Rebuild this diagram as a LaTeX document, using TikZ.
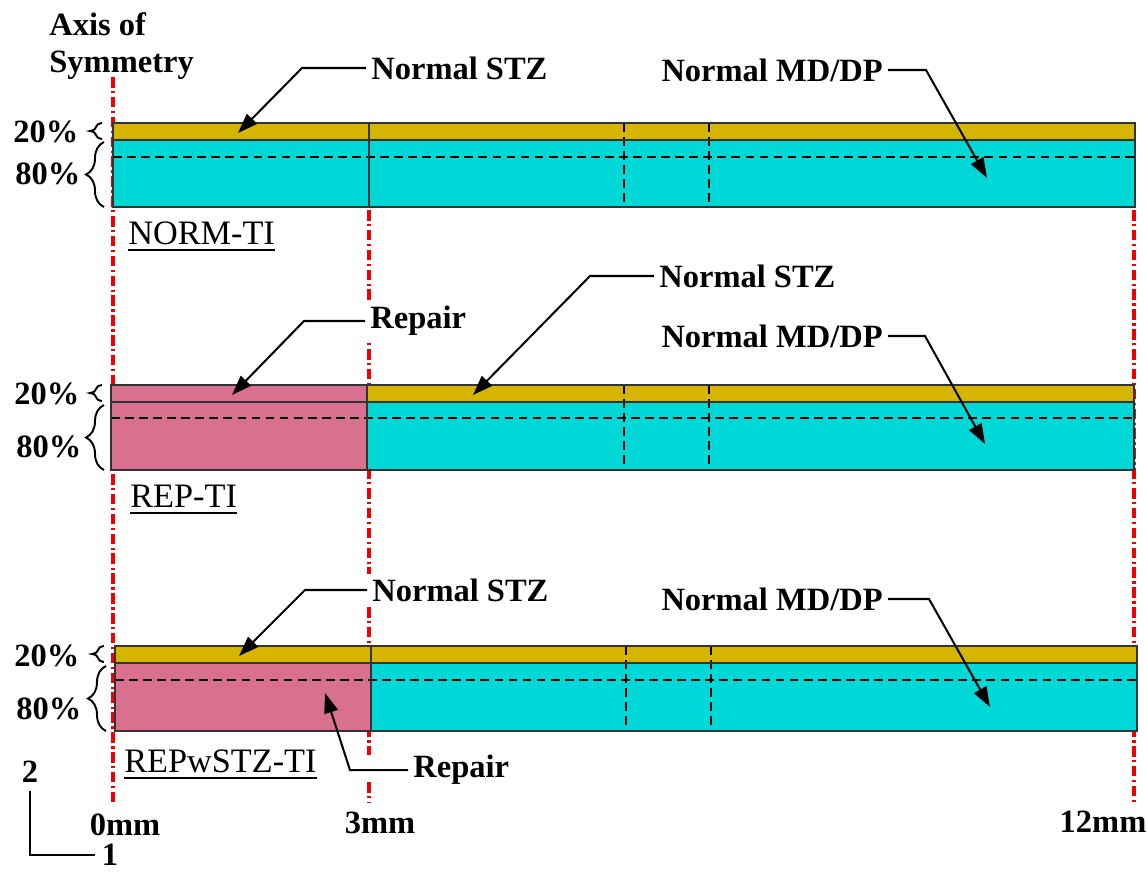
\documentclass[tikz,border=0pt]{standalone}
\usepackage{fontspec}
\setmainfont{Liberation Serif}
\usetikzlibrary{arrows.meta,decorations.pathreplacing}
\definecolor{stzc}{RGB}{214,181,0}
\definecolor{mdc}{RGB}{0,215,215}
\definecolor{repc}{RGB}{217,112,144}
\definecolor{axred}{RGB}{240,0,0}
\newcommand{\myul}[1]{\setbox0\hbox{#1}\rlap{\vrule height -3.1pt depth 4.2pt width \wd0}\box0}
\begin{document}
\begin{tikzpicture}[x=0.02cm,y=-0.02cm,
  bold/.style={font=\fontsize{18.5}{21}\selectfont\bfseries, inner sep=0},
  lbl/.style={font=\fontsize{18.5}{21}\selectfont\bfseries, fill=white, inner sep=0.1cm},
  tag/.style={font=\fontsize{19.5}{22}\selectfont, inner sep=0, anchor=base west},
  axisline/.style={axred, line width=1.9pt, dash pattern=on 6pt off 2pt on 1.3pt off 2pt},
  panel/.style={draw=black!80, line width=0.9pt},
  inner/.style={black, line width=0.75pt, dash pattern=on 5pt off 3pt},
  leader/.style={line width=1.15pt, -{Triangle[length=0.4cm,width=0.28cm]}},
  brc/.style={decorate, decoration={brace, amplitude=0.36cm}, line width=1.1pt},
  sbrc/.style={decorate, decoration={brace, amplitude=0.24cm}, line width=1.1pt}]
\useasboundingbox (0,0) rectangle (1147,873);

% red axis lines (behind)
\draw[axisline] (113,77) -- (113,803);
\draw[axisline] (369,210) -- (369,755) (369,782) -- (369,803);
\draw[axisline] (1134,210) -- (1134,803);

% ---------- panel 1 ----------
\fill[mdc] (113,140) rectangle (1135,207);
\fill[stzc] (113,123) rectangle (1135,140);
\draw[inner] (113,157) -- (1135,157);
\draw[inner] (624,123) -- (624,207);
\draw[inner] (709,123) -- (709,207);
\draw[panel] (113,123) rectangle (1135,207);
\draw[panel] (113,140) -- (1135,140);
\draw[panel] (369,123) -- (369,207);

% ---------- panel 2 ----------
\fill[repc] (111,385) rectangle (367,470);
\fill[stzc] (367,385) rectangle (1134,402);
\fill[mdc] (367,402) rectangle (1134,470);
\draw[inner] (111,418) -- (1134,418);
\draw[inner] (624,385) -- (624,470);
\draw[inner] (709,385) -- (709,470);
\draw[panel] (111,385) rectangle (1134,470);
\draw[panel] (111,402) -- (1134,402);
\draw[panel] (367,385) -- (367,470);

% ---------- panel 3 ----------
\fill[stzc] (115,646) rectangle (1137,663);
\fill[repc] (115,663) rectangle (371,731);
\fill[mdc] (371,663) rectangle (1137,731);
\draw[inner] (115,680) -- (1137,680);
\draw[inner] (626,646) -- (626,731);
\draw[inner] (711,646) -- (711,731);
\draw[panel] (115,646) rectangle (1137,731);
\draw[panel] (115,663) -- (1137,663);
\draw[panel] (371,646) -- (371,731);

% ---------- axis of symmetry ----------
\node[bold, anchor=base west] (ax1) at (49,35) {Axis of};
\node[bold, anchor=base west] (ax2) at (49,72) {Symmetry};

% ---------- percent labels and braces ----------
\node[bold] (pa20) at (46,132) {20\%};
\node[bold] (pa80) at (48,174) {80\%};
\node[bold] (pb20) at (47,394) {20\%};
\node[bold] (pb80) at (49,447) {80\%};
\node[bold] (pc20) at (47,656) {20\%};
\node[bold] (pc80) at (49,709) {80\%};
\draw[sbrc] (102,139) -- (102,123);
\draw[brc] (104,207) -- (104,142);
\draw[sbrc] (102,401) -- (102,385);
\draw[brc] (104,470) -- (104,405);
\draw[sbrc] (104,662) -- (104,646);
\draw[brc] (106,731) -- (106,666);

% ---------- case names ----------
\node[tag] (t1) at (128,244) {\myul{NORM-TI}};
\node[tag] (t2) at (130,507) {\myul{REP-TI}};
\node[tag] (t3) at (124,772) {\myul{REPwSTZ-TI}};

% ---------- leaders panel 1 ----------
\node[lbl, anchor=west] (s1) at (366,68) {Normal STZ};
\coordinate (s1k) at (302,68);
\coordinate (s1t) at (238,133);
\draw[leader] (s1.west) -- (s1k) -- (s1t);
\node[lbl, anchor=east] (m1) at (888,70) {Normal MD/DP};
\coordinate (m1k) at (926,70);
\coordinate (m1t) at (987,178);
\draw[leader] (m1.east) -- (m1k) -- (m1t);

% ---------- leaders panel 2 ----------
\node[lbl, anchor=west] (s2) at (654,276) {Normal STZ};
\coordinate (s2k) at (590,276);
\coordinate (s2t) at (473,395);
\draw[leader] (s2.west) -- (s2k) -- (s2t);
\node[lbl, anchor=west] (r2) at (365,321) {Repair};
\coordinate (r2k) at (304,321);
\coordinate (r2t) at (232,395);
\draw[leader] (r2.west) -- (r2k) -- (r2t);
\node[lbl, anchor=east] (m2) at (888,336) {Normal MD/DP};
\coordinate (m2k) at (925,336);
\coordinate (m2t) at (985,444);
\draw[leader] (m2.east) -- (m2k) -- (m2t);

% ---------- leaders panel 3 ----------
\node[lbl, anchor=west] (s3) at (367,590) {Normal STZ};
\coordinate (s3k) at (305,590);
\coordinate (s3t) at (239,656);
\draw[leader] (s3.west) -- (s3k) -- (s3t);
\node[lbl, anchor=east] (m3) at (888,599) {Normal MD/DP};
\coordinate (m3k) at (929,599);
\coordinate (m3t) at (990,707);
\draw[leader] (m3.east) -- (m3k) -- (m3t);
\node[lbl, anchor=west] (r3) at (408,770) {Repair};
\coordinate (r3k) at (350,770);
\coordinate (r3t) at (325,693);
\draw[leader] (r3.west) -- (r3k) -- (r3t);

% ---------- positions ----------
\node[bold] (mm0) at (125,825) {0mm};
\node[bold] (mm3) at (380,823) {3mm};
\node[bold] (mm12) at (1103,822) {12mm};

% ---------- coordinate axes ----------
\node[bold] (two) at (30,772) {2};
\node[bold] (one) at (110,855) {1};
\draw[line width=1.1pt] ([yshift=-0.16cm]two.south) |- ([xshift=-0.14cm]one.west);
\end{tikzpicture}
\end{document}
